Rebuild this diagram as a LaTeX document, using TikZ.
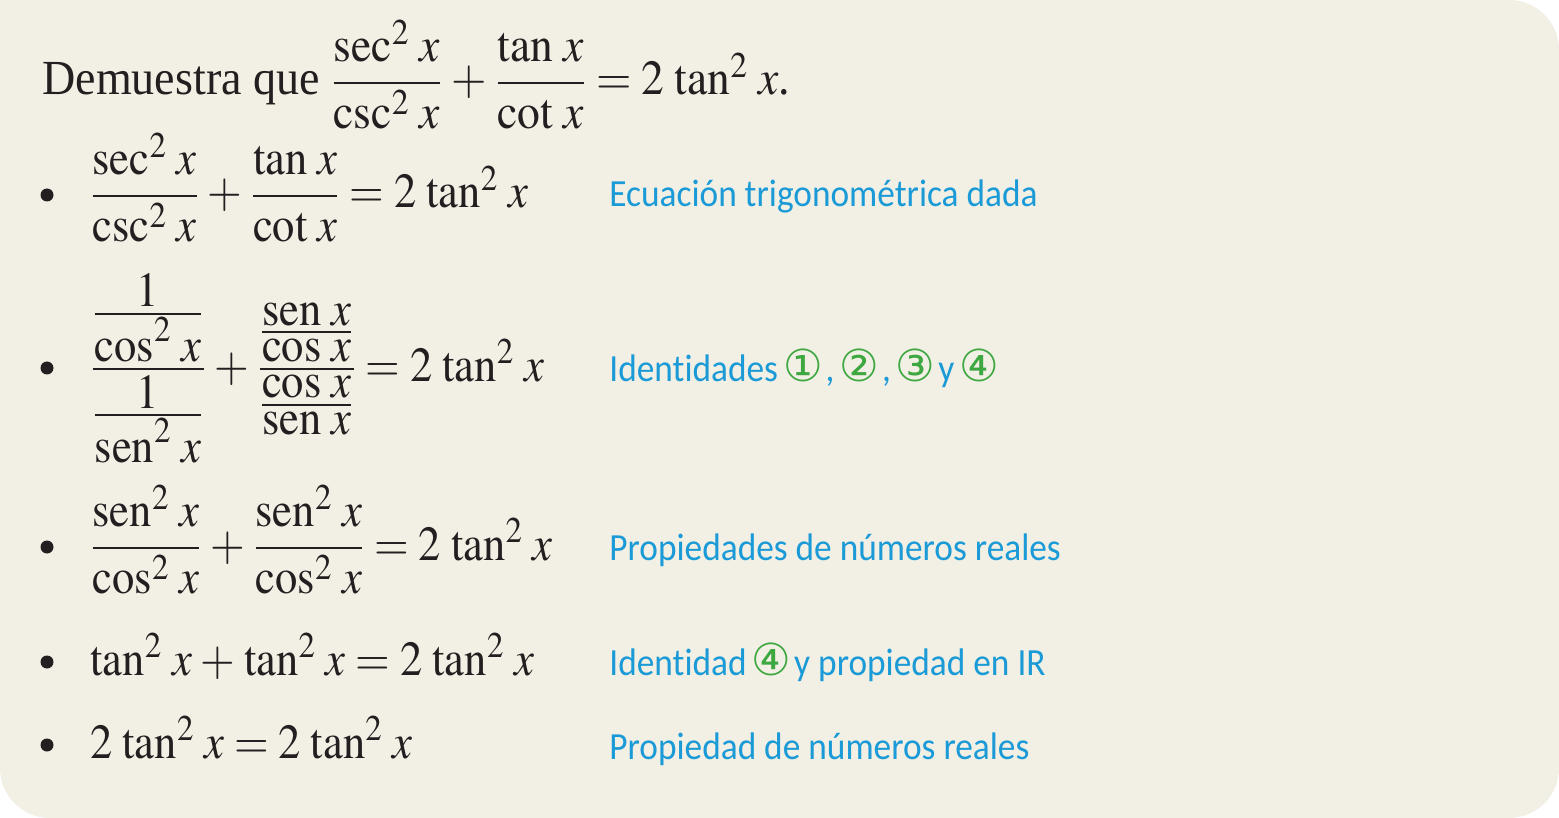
\documentclass[tikz,border=0pt]{standalone}
\usepackage{amsmath}
\usepackage{graphicx}
\usepackage{mathptmx}
\usepackage[no-math]{fontspec}
\setmainfont{Liberation Serif}[FakeStretch=0.94]
\newfontfamily\notefont{Carlito}[FakeStretch=0.92,Ligatures=NoCommon]
\newfontfamily\circfont{DejaVu Sans}[Scale=1.15]
\usetikzlibrary{
  positioning,
}
\definecolor{paper}{HTML}{F2EFE5}
\definecolor{ink}{HTML}{231F20}
\definecolor{noteblue}{HTML}{1A9AD6}
\definecolor{idgreen}{HTML}{3DA740}
\newcommand{\sen}{\mathop{\mathrm{sen}}\nolimits}
\newcommand{\idn}[1]{\kern-1.5pt{\circfont\color{idgreen}#1}\kern1.5pt}
\newcommand{\fm}[2][0.91]{\scalebox{#1}[1]{$#2$}}
\newcommand{\tf}[2]{\frac{\displaystyle #1}{\displaystyle #2}}
\thinmuskip=4mu
\medmuskip=3.5mu
\thickmuskip=4mu
\tikzset{
  eq/.style={anchor=base west,inner sep=0pt,text=ink,font=\fontsize{24.5}{29}\selectfont},
  note/.style={anchor=base west,inner sep=0pt,text=noteblue,font=\notefont\fontsize{19.2}{23}\selectfont},
  dot/.style={circle,fill=ink,inner sep=0pt,minimum size=6.5pt},
}

\begin{document}
\begin{tikzpicture}[x=0.5pt,y=-0.5pt]

      \useasboundingbox (0,0) rectangle (1559,818);
      \fill[paper,rounded corners=25pt] (0,0) rectangle (1559,818);
      \fill[paper] (0,0) rectangle (80,80);

      \node[eq] (claim) at (42,95) {Demuestra que \fm[0.93]{\dfrac{\sec^2 x}{\csc^2 x}+\dfrac{\tan x}{\cot x}=2\tan^2 x}.};

      \node[dot] (d1) at (47,195) {};
      \node[eq] (s1) at (90,208) {\fm{\dfrac{\sec^2 x}{\csc^2 x}+\dfrac{\tan x}{\cot x}=2\tan^2 x}};
      \node[note] (n1) at (609,207) {Ecuación trigonométrica dada};

      \node[dot] (d2) at (47,368) {};
      \node[eq] (s2) at (90,381) {\fm{\dfrac{\tf{1}{\cos^2 x}}{\tf{1}{\sen^2 x}}+\dfrac{\tf{\sen x}{\cos x}}{\tf{\cos x}{\sen x}}=2\tan^2 x}};
      \node[note] (n2) at (609,381) {Identidades \idn{①}, \idn{②}, \idn{③} y \idn{④}};

      \node[dot] (d3) at (47,547) {};
      \node[eq] (s3) at (90,560) {\fm{\dfrac{\sen^2 x}{\cos^2 x}+\dfrac{\sen^2 x}{\cos^2 x}=2\tan^2 x}};
      \node[note] (n3) at (609,560) {Propiedades de números reales};

      \node[dot] (d4) at (47,662) {};
      \node[eq] (s4) at (90,675) {\fm{\tan^2 x+\tan^2 x=2\tan^2 x}};
      \node[note] (n4) at (609,675) {Identidad \idn{④} y propiedad en IR};

      \node[dot] (d5) at (47,745) {};
      \node[eq] (s5) at (90,758) {\fm{2\tan^2 x=2\tan^2 x}};
      \node[note] (n5) at (609,759) {Propiedad de números reales};

    \end{tikzpicture}
\end{document}
